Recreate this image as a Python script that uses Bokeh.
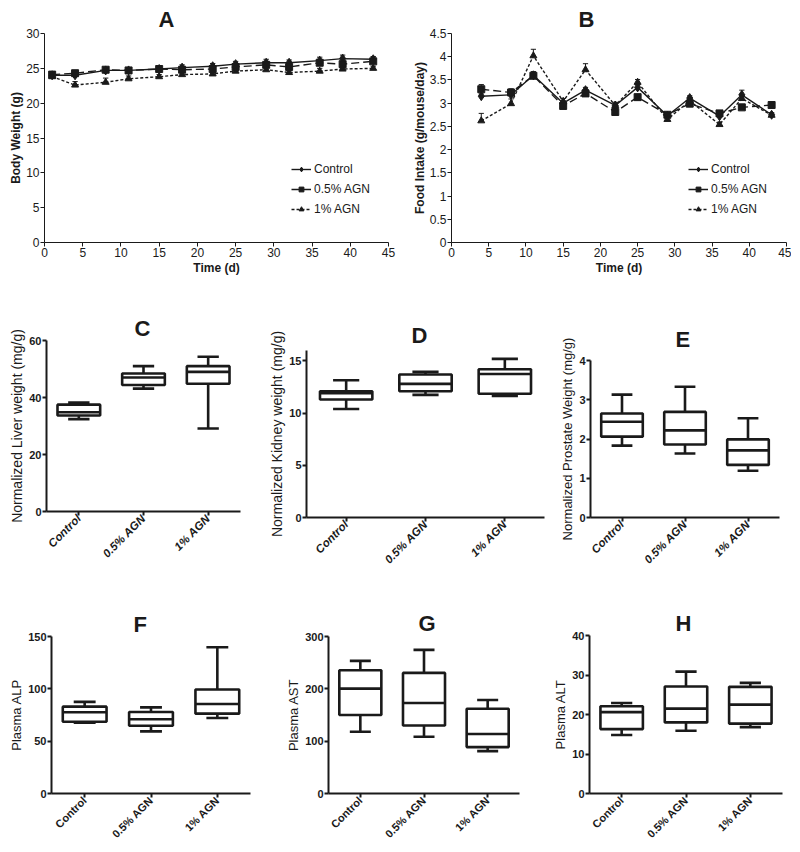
import numpy as np
from bokeh.plotting import figure
from bokeh.layouts import column, row
from bokeh.models import Range1d, FixedTicker, Title, Legend, LegendItem, CustomJSTickFormatter, Spacer
from bokeh.embed import file_html
from bokeh.resources import INLINE

FONT = "Liberation Sans"
INK = "#1a1a1a"

# ---------------- data ----------------
groups = ["Control", "0.5% AGN", "1% AGN"]

days_bw = [1, 4, 8, 11, 15, 18, 22, 25, 29, 32, 36, 39, 43]
bw_control = [24.0, 24.0, 24.7, 24.7, 24.9, 25.1, 25.3, 25.6, 25.8, 25.8, 26.1, 26.4, 26.3]
bw_agn05 = [24.1, 24.3, 24.8, 24.7, 24.9, 24.8, 24.9, 25.2, 25.5, 25.2, 25.8, 25.6, 26.0]
bw_agn1 = [23.8, 22.6, 23.0, 23.5, 23.8, 24.1, 24.2, 24.6, 24.8, 24.4, 24.6, 24.9, 25.0]
bw_err_control = [0.3, 0.3, 0.4, 0.4, 0.3, 0.4, 0.4, 0.4, 0.5, 0.4, 0.5, 0.5, 0.4]
bw_err_agn05 = [0.3, 0.3, 0.3, 0.3, 0.3, 0.3, 0.3, 0.3, 0.3, 0.3, 0.4, 0.3, 0.3]
bw_err_agn1 = [0.3, 0.5, 0.6, 0.4, 0.3, 0.3, 0.3, 0.3, 0.3, 0.3, 0.4, 0.3, 0.3]

days_fi = [4, 8, 11, 15, 18, 22, 25, 29, 32, 36, 39, 43]
fi_control = [3.15, 3.18, 3.60, 3.00, 3.28, 2.95, 3.34, 2.73, 3.11, 2.72, 3.18, 2.75]
fi_agn05 = [3.30, 3.23, 3.59, 2.94, 3.21, 2.81, 3.13, 2.75, 2.99, 2.78, 2.91, 2.96]
fi_agn1 = [2.62, 2.99, 4.02, 3.04, 3.72, 2.95, 3.45, 2.65, 3.05, 2.54, 3.10, 2.74]
fi_err_control = [0.05, 0.05, 0.08, 0.05, 0.06, 0.05, 0.06, 0.05, 0.05, 0.05, 0.10, 0.04]
fi_err_agn05 = [0.10, 0.08, 0.06, 0.05, 0.05, 0.05, 0.04, 0.04, 0.04, 0.04, 0.04, 0.04]
fi_err_agn1 = [0.16, 0.10, 0.14, 0.06, 0.13, 0.07, 0.06, 0.04, 0.06, 0.05, 0.07, 0.05]

liver_low = [32.4, 43.1, 29.1]
liver_q1 = [33.7, 44.4, 44.8]
liver_med = [34.8, 47.0, 49.0]
liver_q3 = [37.5, 48.4, 51.0]
liver_high = [38.2, 51.0, 54.3]

kidney_low = [10.4, 11.75, 11.65]
kidney_q1 = [11.3, 12.1, 11.85]
kidney_med = [11.9, 12.8, 13.75]
kidney_q3 = [12.1, 13.7, 14.2]
kidney_high = [13.15, 13.95, 15.2]

prostate_low = [1.83, 1.63, 1.19]
prostate_q1 = [2.06, 1.86, 1.34]
prostate_med = [2.44, 2.22, 1.71]
prostate_q3 = [2.65, 2.69, 1.99]
prostate_high = [3.13, 3.33, 2.53]

alp_low = [67.7, 59.4, 72.1]
alp_q1 = [68.5, 64.8, 76.3]
alp_med = [77.6, 70.9, 85.5]
alp_q3 = [83.0, 77.9, 99.3]
alp_high = [87.5, 82.3, 139.8]

ast_low = [118, 108.5, 81]
ast_q1 = [150, 130, 88.7]
ast_med = [200.4, 173, 113.6]
ast_q3 = [235.5, 230.4, 162]
ast_high = [253.4, 274.5, 178.7]

alt_low = [14.8, 15.9, 16.8]
alt_q1 = [16.3, 18.0, 17.7]
alt_med = [20.6, 21.5, 22.5]
alt_q3 = [22.1, 27.1, 27.0]
alt_high = [22.9, 30.85, 28.0]


# ---------------- helpers ----------------
def make_fig(mbl, fw, mbr, mbt, fh, mbb, xr, yr, title, toff, tstand):
    t = Title(text=title, align="left", offset=toff, standoff=tstand,
              text_font=FONT, text_font_size="22px", text_font_style="bold",
              text_color=INK)
    return figure(frame_width=fw, frame_height=fh, x_range=xr, y_range=yr,
                  min_border_left=mbl, min_border_right=mbr,
                  min_border_top=mbt, min_border_bottom=mbb,
                  output_backend="svg", toolbar_location=None, title=t)


def style(p, lw, tick_size, tick_style, lab_size, lab_style):
    p.outline_line_color = None
    p.xgrid.visible = False
    p.ygrid.visible = False
    p.background_fill_color = "white"
    p.border_fill_color = "white"
    for ax in p.axis:
        ax.axis_line_color = INK
        ax.axis_line_width = lw
        ax.major_tick_line_color = INK
        ax.major_tick_line_width = lw
        ax.major_tick_out = 4
        ax.major_tick_in = 0
        ax.minor_tick_line_color = None
        ax.major_label_text_font = FONT
        ax.major_label_text_font_size = tick_size
        ax.major_label_text_font_style = tick_style
        ax.major_label_text_color = INK
        ax.major_label_standoff = 1
        ax.axis_label_text_font = FONT
        ax.axis_label_text_font_size = lab_size
        ax.axis_label_text_font_style = lab_style
        ax.axis_label_text_color = INK
        ax.axis_label_standoff = 1


def series(p, x, y, err, marker, dash, size):
    x = np.asarray(x, float)
    y = np.asarray(y, float)
    top = y + np.asarray(err, float)
    r_line = p.line(x, y, line_color=INK, line_width=1.4, line_dash=dash)
    p.segment(x, y, x, top, line_color=INK, line_width=1)
    p.segment(x - 0.35, top, x + 0.35, top, line_color=INK, line_width=1)
    r_mark = p.scatter(x, y, marker=marker, size=size, fill_color=INK, line_color=INK)
    return [r_line, r_mark]


def line_panel(mbl, fw, mbr, ymax, yticks, ylabel, title, toff, data, lx):
    p = make_fig(mbl, fw, mbr, 30, 209, 36, Range1d(0, 45), Range1d(0, ymax),
                 title, toff, 4)
    style(p, 1, "12px", "normal", "12px", "bold")
    p.yaxis.axis_label_standoff = 0
    p.xaxis.ticker = FixedTicker(ticks=list(range(0, 46, 5)))
    p.yaxis.ticker = FixedTicker(ticks=yticks)
    p.xaxis.axis_label = "Time (d)"
    p.yaxis.axis_label = ylabel
    items = []
    for lab, (x, y, e, mk, dash, sz) in zip(groups, data):
        items.append(LegendItem(label=lab, renderers=series(p, x, y, e, mk, dash, sz)))
    leg = Legend(items=items, location=(lx, 26), padding=0, margin=0, spacing=6,
                 glyph_width=20, glyph_height=12, label_standoff=3,
                 label_text_font=FONT, label_text_font_size="12px", label_text_color=INK,
                 border_line_color=None, background_fill_alpha=0)
    p.add_layout(leg)
    return p


def box_panel(mbl, fw, mbr, mbt, fh, mbb, ymax, yticks, ylabel, lab_size,
              title, toff, tstand, stats, italic, xlab_size):
    low, q1, med, q3, high = [np.asarray(s, float) for s in stats]
    xs = np.arange(1, len(groups) + 1, dtype=float)
    p = make_fig(mbl, fw, mbr, mbt, fh, mbb, Range1d(0.5, 3.5), Range1d(0, ymax),
                 title, toff, tstand)
    style(p, 2, "11px", "bold", lab_size, "normal")
    p.xaxis.major_label_text_font_style = "bold italic" if italic else "bold"
    p.xaxis.major_label_text_font_size = xlab_size
    p.xaxis.ticker = FixedTicker(ticks=list(xs))
    p.xaxis.major_label_overrides = {int(x): g for x, g in zip(xs, groups)}
    p.xaxis.major_label_orientation = np.pi / 4
    p.yaxis.ticker = FixedTicker(ticks=yticks)
    p.yaxis.axis_label = ylabel
    bw, cw = 0.66, 0.33
    lw = 2.6
    p.segment(xs, q3, xs, high, line_color=INK, line_width=lw)
    p.segment(xs, q1, xs, low, line_color=INK, line_width=lw)
    p.segment(xs - cw / 2, high, xs + cw / 2, high, line_color=INK, line_width=lw)
    p.segment(xs - cw / 2, low, xs + cw / 2, low, line_color=INK, line_width=lw)
    p.quad(left=xs - bw / 2, right=xs + bw / 2, bottom=q1, top=q3,
           fill_color="white", line_color=INK, line_width=lw)
    p.segment(xs - bw / 2, med, xs + bw / 2, med, line_color=INK, line_width=lw)
    return p


def cell(p, top_gap):
    # wrap each panel on its own so that panels are placed independently
    return column(Spacer(width=10, height=top_gap), p, spacing=0)


# ---------------- row 1 ----------------
pA = line_panel(35, 344, 21, 30, list(range(0, 31, 5)), "Body Weight (g)", "A", 114,
                [(days_bw, bw_control, bw_err_control, "diamond", "solid", 9),
                 (days_bw, bw_agn05, bw_err_agn05, "square", "8 4", 7),
                 (days_bw, bw_agn1, bw_err_agn1, "triangle", "3 2", 7)], 247)
pB = line_panel(42, 335, 5, 4.5, [i * 0.5 for i in range(10)], "Food Intake (g/mouse/day)",
                "B", 127,
                [(days_fi, fi_control, fi_err_control, "diamond", "solid", 9),
                 (days_fi, fi_agn05, fi_err_agn05, "square", "8 4", 7),
                 (days_fi, fi_agn1, fi_err_agn1, "triangle", "3 2", 7)], 237)
pB.yaxis.formatter = CustomJSTickFormatter(code="return String(Math.round(tick*10)/10);")

# ---------------- row 2 ----------------
pC = box_panel(39, 194, 21, 53, 171, 55, 60, [0, 20, 40, 60],
               "Normalized Liver weight (mg/g)", "14px", "C", 88, 0,
               (liver_low, liver_q1, liver_med, liver_q3, liver_high), True, "11.5px")
pD = box_panel(45, 238, 13, 53, 167, 55, 16, [0, 5, 10, 15],
               "Normalized Kidney weight (mg/g)", "14px", "D", 105, 6,
               (kidney_low, kidney_q1, kidney_med, kidney_q3, kidney_high), True, "11.5px")
pE = box_panel(30, 189, 8, 53, 157, 55, 4, [0, 1, 2, 3, 4],
               "Normalized Prostate Weight (mg/g)", "13px", "E", 85, 18,
               (prostate_low, prostate_q1, prostate_med, prostate_q3, prostate_high), True, "11.5px")

# ---------------- row 3 ----------------
pF = box_panel(41, 199, 33, 64, 157, 52, 150, [0, 50, 100, 150],
               "Plasma ALP", "13px", "F", 82, 0,
               (alp_low, alp_q1, alp_med, alp_q3, alp_high), False, "11px")
pG = box_panel(41, 191, 31, 64, 157, 52, 300, [0, 100, 200, 300],
               "Plasma AST", "13px", "G", 90, 2,
               (ast_low, ast_q1, ast_med, ast_q3, ast_high), False, "11px")
pH = box_panel(36, 193, 4, 63, 158, 52, 40, [0, 10, 20, 30, 40],
               "Plasma ALT", "13px", "H", 86, 0,
               (alt_low, alt_q1, alt_med, alt_q3, alt_high), False, "11px")

grid = column(
    Spacer(width=10, height=2),
    row(cell(pA, 0), cell(pB, 0), spacing=0),
    row(cell(pC, 9), cell(pD, 19), cell(pE, 29), spacing=0),
    row(cell(pF, 0), cell(pG, 0), cell(pH, 0), spacing=0),
    spacing=0,
)
layout = row(Spacer(width=6, height=10), grid, spacing=0)

open("out.html", "w").write(file_html(layout, INLINE))
